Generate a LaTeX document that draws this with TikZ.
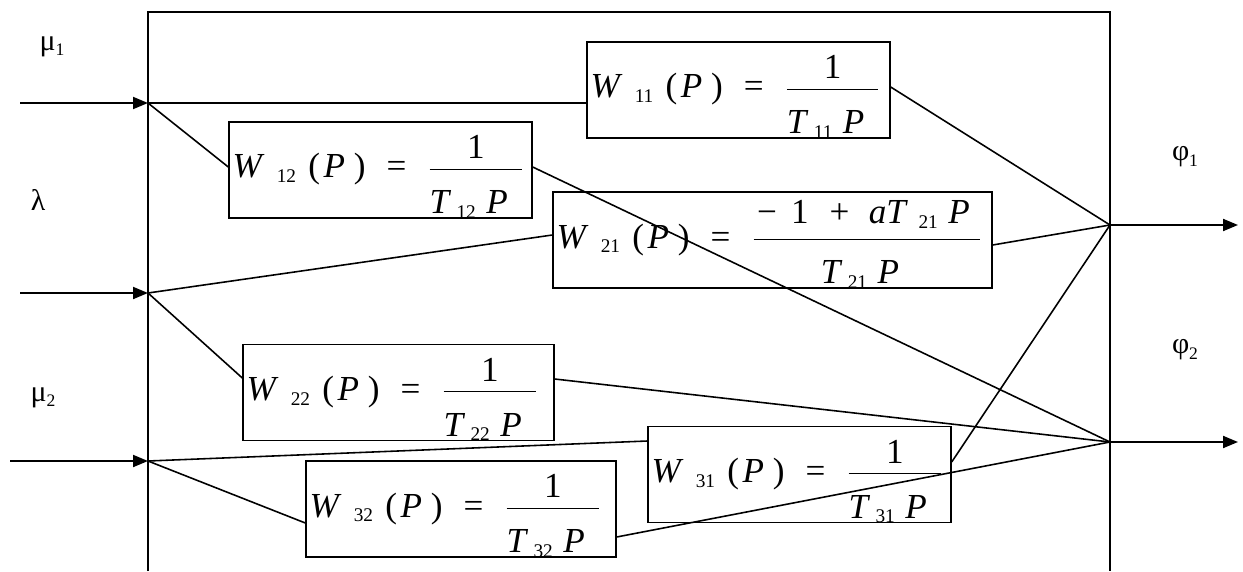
\documentclass[tikz,border=0pt]{standalone}
\usepackage{fontspec}
\setmainfont{Liberation Serif}
\usetikzlibrary{arrows.meta,positioning}
% small index next to W and T
\newcommand{\idx}[1]{\raisebox{-.3ex}{\fontsize{11}{11}\selectfont #1}}
\newcommand{\one}{\raisebox{-3pt}[\height][0pt]{1}}
\newcommand{\den}[1]{\rule{0pt}{1.2em}\textit{T}\hspace{.15em}\idx{#1}\hspace{.3em}\textit{P}\hspace{.4em}}
\newcommand{\tfw}[3]{\mbox{\textit{W}\hspace{.35em}\idx{#1}\hspace{.35em}(\hspace{.1em}\textit{P}\hspace{.25em})\hspace{.6em}=\hspace{.6em}$\displaystyle\frac{\mbox{#2}}{\mbox{#3}}$}}
% signal names with lowered index
\newcommand{\sig}[2]{#1\raisebox{-3pt}{\fontsize{10}{10}\selectfont #2}}
\tikzset{
  every node/.style={font=\fontsize{20}{24}\selectfont},
  tfbox/.style={draw,line width=.8pt,inner xsep=2pt,inner ysep=0pt,align=left,
    text height=1.12cm,text depth=.8cm,text width=#1},
  signame/.style={font=\fontsize{17}{20}\selectfont,inner sep=0pt},
  link/.style={line width=.9pt},
  feed/.style={line width=1.1pt,-{Triangle[length=.3cm,width=.24cm]}},
  frame/.style={line width=1.1pt}
}
\begin{document}
\begin{tikzpicture}[x=.02cm,y=-.02cm]
  \useasboundingbox (0,0) rectangle (1243,571);
  % object frame, open at the bottom
  \draw[frame] (148,571) -- (148,12) -- (1110,12) -- (1110,571);

  % transfer functions
  \node[tfbox=5.92cm] (w11) at (738.5,90) {\tfw{11}{\one}{\den{11}}};
  \node[tfbox=5.92cm] (w12) at (380.5,170) {\tfw{12}{\one}{\den{12}}};
  \node[tfbox=8.64cm] (w21) at (772.5,240)
    {\tfw{21}{\hspace{.1em}−\hspace{.4em}1\hspace{.6em}+\hspace{.55em}\textit{aT}\hspace{.3em}\idx{21}\hspace{.3em}\textit{P}\hspace{.3em}}{\den{21}}};
  \node[tfbox=6.08cm] (w22) at (398.5,392.5) {\tfw{22}{\one}{\den{22}}};
  \node[tfbox=5.92cm] (w31) at (799.5,474.5) {\tfw{31}{\one}{\den{31}}};
  \node[tfbox=6.06cm] (w32) at (461,509) {\tfw{32}{\one}{\den{32}}};

  % inputs and outputs
  \coordinate (in1) at (148,103);
  \coordinate (in2) at (148,293);
  \coordinate (in3) at (148,461);
  \coordinate (s1) at (20,103);
  \coordinate (s2) at (20,293);
  \coordinate (s3) at (10,461);
  \coordinate (out1) at (1110,225);
  \coordinate (out2) at (1110,442);
  \coordinate (e1) at (1238,225);
  \coordinate (e2) at (1238,442);
  \node[signame] (mu1) at (52,47) {\sig{μ}{1}};
  \node[signame] (lam) at (38,200) {λ};
  \node[signame] (mu2) at (43,398) {\sig{μ}{2}};
  \node[signame] (phi1) at (1185,157) {\sig{φ}{1}};
  \node[signame] (phi2) at (1185,350) {\sig{φ}{2}};

  \draw[feed] (s1) -- (in1);
  \draw[feed] (s2) -- (in2);
  \draw[feed] (s3) -- (in3);
  \draw[feed] (out1) -- (e1);
  \draw[feed] (out2) -- (e2);

  % links from inputs to blocks
  \draw[link] (in1) -- ([yshift=-.26cm]w11.west);
  \draw[link] (in1) -- ([yshift=.06cm]w12.west);
  \draw[link] (in2) -- ([yshift=.1cm]w21.west);
  \draw[link] (in2) -- ([yshift=.29cm]w22.west);
  \draw[link] (in3) -- ([yshift=.67cm]w31.west);
  \draw[link] (in3) -- ([yshift=-.28cm]w32.west);

  % links from blocks to outputs
  \draw[link] ([yshift=.06cm]w11.east) -- (out1);
  \draw[link] ([yshift=.06cm]w12.east) -- (out2);
  \draw[link] ([yshift=-.1cm]w21.east) -- (out1);
  \draw[link] ([yshift=.27cm]w22.east) -- (out2);
  \draw[link] ([yshift=.25cm]w31.east) -- (out1);
  \draw[link] ([yshift=-.56cm]w32.east) -- (out2);
\end{tikzpicture}
\end{document}
